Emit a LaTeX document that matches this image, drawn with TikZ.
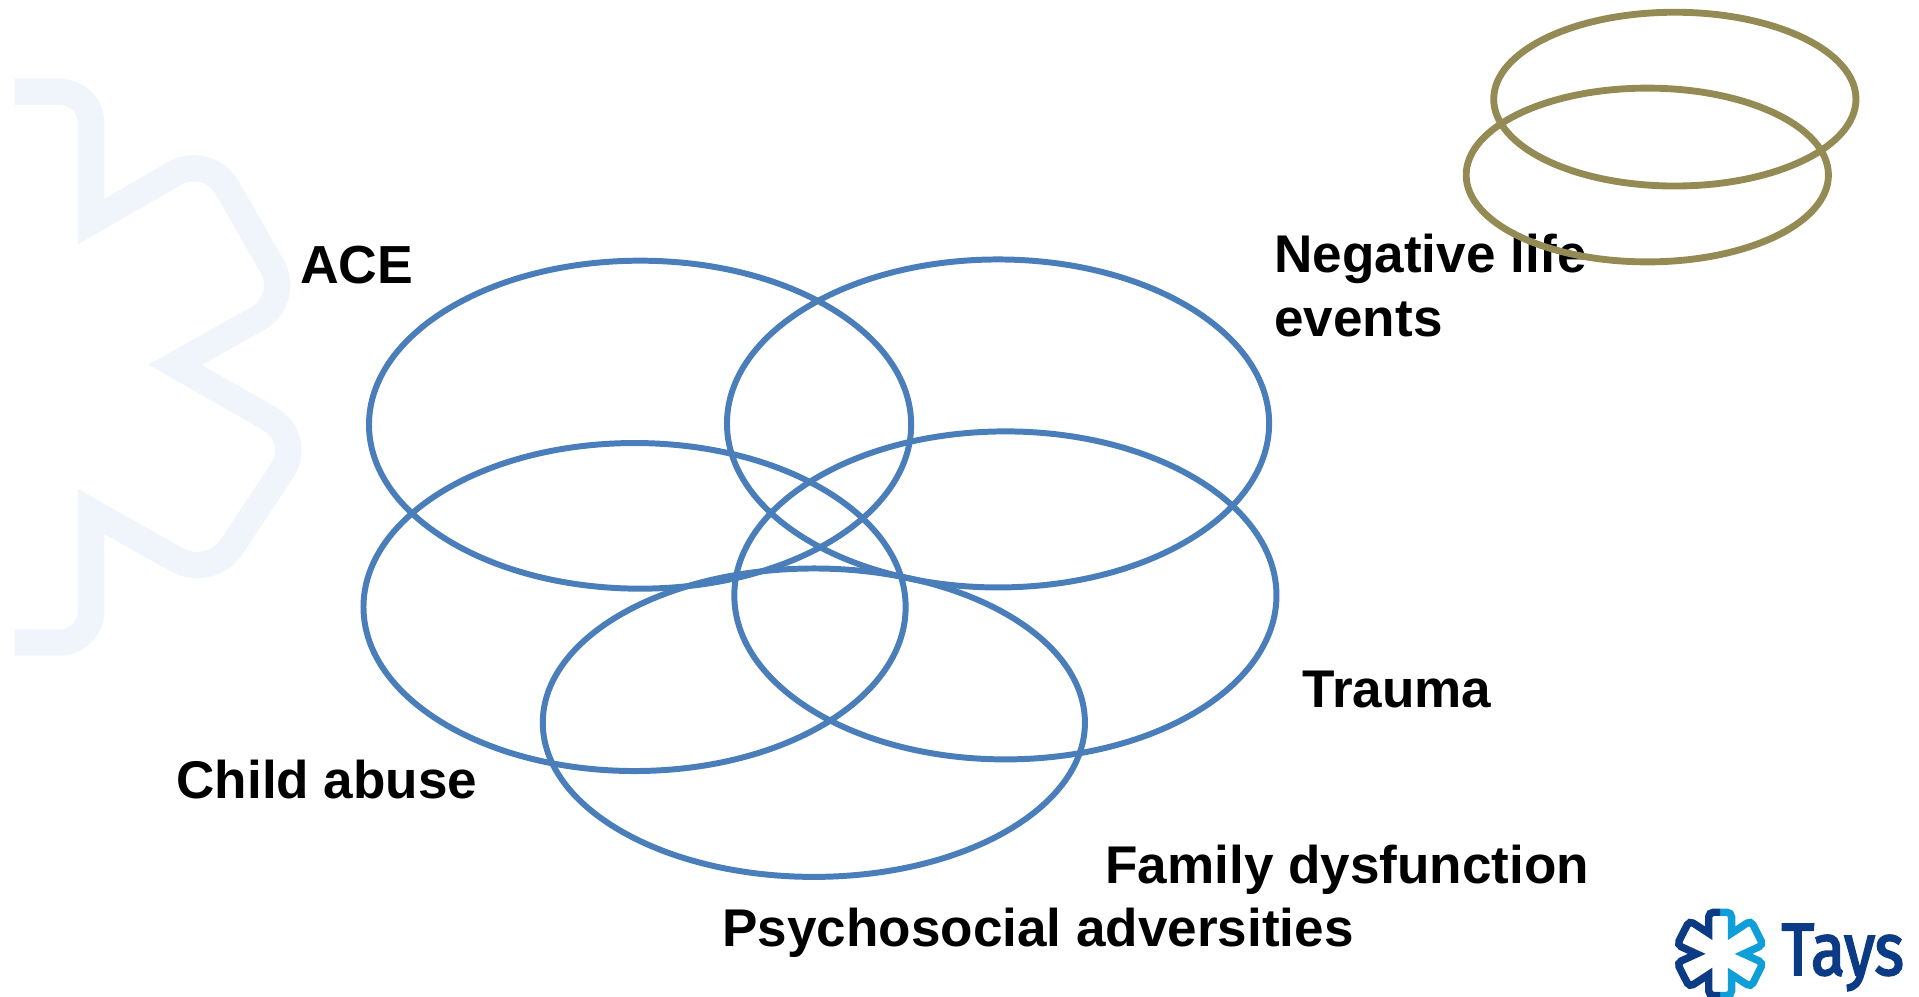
\documentclass[tikz,border=0pt]{standalone}
\usepackage{fontspec}
\setmainfont{Liberation Sans}
\newfontfamily\taysfont[FakeBold=2.6,FakeStretch=0.85]{Fira Sans}
\definecolor{ringblue}{HTML}{4A7EBB}
\definecolor{ringgold}{HTML}{948A54}
\definecolor{washblue}{HTML}{EFF5FB}
\definecolor{logodark}{HTML}{0B3B85}
\definecolor{logolight}{HTML}{0F9FD8}
\tikzset{
  bluering/.style={draw=ringblue,line width=3.4pt},
  goldring/.style={draw=ringgold,line width=3.9pt},
  label/.style={anchor=base west,inner sep=0pt,font=\bfseries\fontsize{30.2}{36.4}\selectfont,align=left},
  logohalf/.style={line width=4.2pt,miter limit=10,rounded corners=2.6pt},
}
\begin{document}
\begin{tikzpicture}[x=0.02448cm,y=-0.02448cm]
\useasboundingbox (0,0) rectangle (1568,814.6);
% watermark half star
\draw[washblue,line width=15pt,miter limit=10]
  (12,75) [rounded corners=18pt] -- (74.5,75) -- (74.5,181) [sharp corners] -- (74.5,181)
  [rounded corners=22pt] -- (170,126) -- (238,245) [sharp corners] -- (143,298)
  [rounded corners=22pt] -- (248,358) -- (172,473) [sharp corners] -- (74.5,418)
  [rounded corners=18pt] -- (74.5,525) -- (12,525);
% labels
\node[label] (ace) at (245,232) {\fontsize{30.5}{36.4}\selectfont ACE};
\node[label] (neg) at (1041,223) {Negative life};
\node[label] (ev) at (1041,275) {events};
\node[label] (tr) at (1064,578) {Trauma};
\node[label] (ca) at (144,652.5) {Child abuse};
\node[label] (fd) at (903,722) {Family dysfunction};
\node[label] (ps) at (590,773) {Psychosocial adversities};
% rings
\draw[bluering] (523,347) ellipse [x radius=221.5,y radius=134];
\draw[bluering] (815.5,346) ellipse [x radius=221.5,y radius=134];
\draw[bluering] (518.5,496) ellipse [x radius=221.5,y radius=134];
\draw[bluering] (821.5,486.5) ellipse [x radius=221.5,y radius=134];
\draw[bluering] (665,590.5) ellipse [x radius=221.5,y radius=126];
\draw[goldring] (1368.5,81) ellipse [x radius=148,y radius=71];
\draw[goldring] (1346,143) ellipse [x radius=148,y radius=71];
% logo
\begin{scope}[shift={(1405.5,779.4)},x=0.00586cm,y=-0.00666cm]
\draw[logolight,logohalf] (0,-125) -- (39,-125) -- (39,-62) [sharp corners] -- (39,-62) [rounded corners=2.6pt] -- (105,-100) -- (147,-27) [sharp corners] -- (80,0) [rounded corners=2.6pt] -- (147,27) -- (105,100) [sharp corners] -- (39,62) [rounded corners=2.6pt] -- (39,125) -- (0,125);
\draw[logodark,logohalf] (0,-125) -- (-39,-125) -- (-39,-62) [sharp corners] -- (-39,-62) [rounded corners=2.6pt] -- (-105,-100) -- (-147,-27) [sharp corners] -- (-80,0) [rounded corners=2.6pt] -- (-147,27) -- (-105,100) [sharp corners] -- (-39,62) [rounded corners=2.6pt] -- (-39,125) -- (0,125);
\end{scope}
\node[anchor=base west,inner sep=0pt,text=logodark,font=\taysfont\fontsize{42}{42}\selectfont] (tays) at (1455.5,796.6) {Tays};
\end{tikzpicture}
\end{document}
